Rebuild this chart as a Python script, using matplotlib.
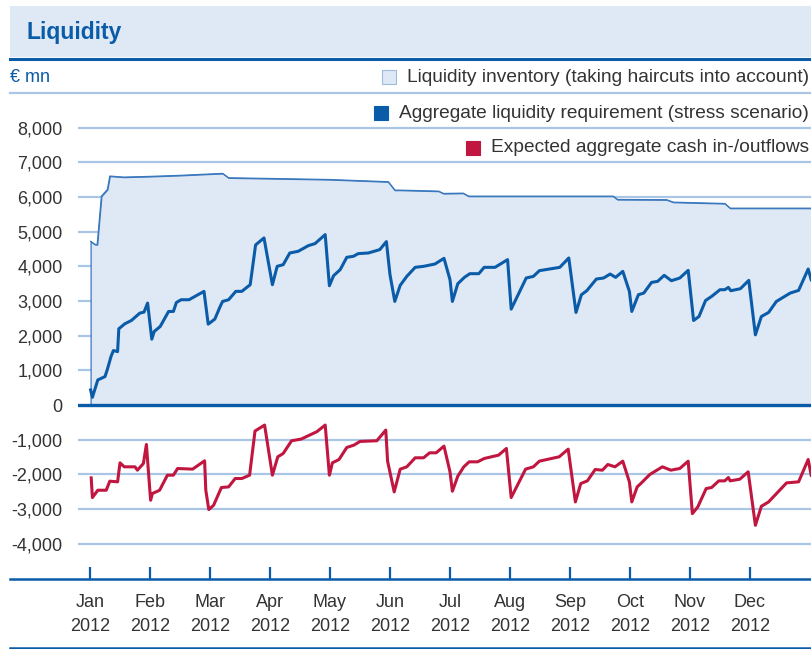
import numpy as np
import matplotlib.pyplot as plt
from matplotlib.lines import Line2D
from matplotlib.patches import Rectangle

plt.rcParams['font.family'] = ['Liberation Sans', 'DejaVu Sans']

#%% data (x in months from 1 Jan 2012)
months = ["Jan", "Feb", "Mar", "Apr", "May", "Jun", "Jul", "Aug", "Sep", "Oct", "Nov", "Dec"]
yticks = [-4000, -3000, -2000, -1000, 0, 1000, 2000, 3000, 4000, 5000, 6000, 7000, 8000]

inv_x = [0.01, 0.08, 0.12, 0.19, 0.29, 0.33, 0.56, 1.0, 1.5, 2.0, 2.21, 2.31, 3.0, 4.0,
         4.97, 5.08, 5.17, 5.81, 5.89, 6.22, 6.31, 8.72, 8.79, 9.61, 9.72, 10.58, 10.67, 12.02]
inv_y = [4720, 4630, 4624, 6020, 6214, 6600, 6570, 6590, 6620, 6660, 6676, 6550, 6530, 6500,
         6436, 6194, 6194, 6165, 6098, 6107, 6020, 6020, 5925, 5918, 5847, 5809, 5674, 5674]

req_x = [0.01, 0.04, 0.13, 0.19, 0.25, 0.29, 0.35, 0.39, 0.46, 0.48, 0.58, 0.69, 0.83, 0.9,
         0.96, 1.03, 1.07, 1.17, 1.31, 1.39, 1.44, 1.52, 1.65, 1.9, 1.97, 2.08, 2.17, 2.21,
         2.31, 2.43, 2.53, 2.67, 2.76, 2.9, 3.04, 3.12, 3.22, 3.33, 3.47, 3.64, 3.75, 3.92,
         3.99, 4.06, 4.17, 4.28, 4.39, 4.47, 4.64, 4.83, 4.94, 5.0, 5.08, 5.17, 5.28, 5.42,
         5.56, 5.75, 5.9, 6.0, 6.04, 6.13, 6.24, 6.33, 6.48, 6.57, 6.75, 6.96, 7.02, 7.27,
         7.39, 7.49, 7.83, 7.98, 8.1, 8.19, 8.28, 8.44, 8.56, 8.67, 8.76, 8.88, 8.99, 9.03,
         9.14, 9.23, 9.36, 9.46, 9.57, 9.69, 9.83, 9.97, 10.06, 10.15, 10.26, 10.36, 10.5,
         10.58, 10.64, 10.68, 10.84, 10.98, 11.09, 11.19, 11.31, 11.44, 11.67, 11.81, 11.97, 12.02]
req_y = [434, 222, 723, 771, 819, 1031, 1397, 1570, 1540, 2197, 2341, 2437, 2649, 2678,
         2938, 1898, 2119, 2264, 2697, 2697, 2957, 3035, 3035, 3276, 2332, 2476, 2842, 2986,
         3035, 3276, 3276, 3468, 4615, 4817, 3468, 3998, 4046, 4383, 4431, 4595, 4653, 4913,
         3439, 3728, 3902, 4258, 4287, 4364, 4383, 4480, 4711, 3757, 2986, 3450, 3709, 3969,
         3998, 4065, 4229, 3613, 2986, 3497, 3680, 3786, 3786, 3969, 3969, 4191, 2765, 3661,
         3709, 3873, 3969, 4239, 2668, 3179, 3295, 3632, 3661, 3776, 3680, 3853, 3276, 2697,
         3179, 3227, 3535, 3564, 3738, 3584, 3661, 3882, 2437, 2552, 3014, 3130, 3324,
         3324, 3391, 3295, 3353, 3593, 2023, 2552, 2668, 2986, 3227, 3304, 3920, 3613]

cash_x = [0.02, 0.04, 0.13, 0.27, 0.33, 0.46, 0.5, 0.57, 0.75, 0.79, 0.89, 0.94, 1.01, 1.04,
          1.16, 1.29, 1.39, 1.46, 1.71, 1.91, 1.93, 1.98, 2.06, 2.19, 2.31, 2.42, 2.53, 2.66,
          2.75, 2.91, 3.04, 3.13, 3.22, 3.36, 3.52, 3.78, 3.92, 3.99, 4.04, 4.15, 4.28, 4.4,
          4.5, 4.78, 4.93, 4.96, 5.07, 5.17, 5.28, 5.42, 5.56, 5.66, 5.77, 5.9, 6.0, 6.04,
          6.13, 6.23, 6.32, 6.46, 6.57, 6.81, 6.94, 7.02, 7.26, 7.39, 7.49, 7.82, 7.97, 8.09,
          8.18, 8.29, 8.42, 8.54, 8.63, 8.75, 8.88, 8.99, 9.03, 9.12, 9.18, 9.33, 9.54, 9.68,
          9.83, 9.97, 10.04, 10.13, 10.27, 10.36, 10.48, 10.58, 10.64, 10.67, 10.83, 10.97,
          11.09, 11.19, 11.31, 11.61, 11.81, 11.97, 12.02]
cash_y = [-2101, -2668, -2457, -2457, -2196, -2215, -1667, -1782, -1782, -1879, -1686, -1137,
          -2746, -2552, -2457, -2023, -2023, -1830, -1849, -1609, -2457, -3015, -2890, -2379,
          -2360, -2119, -2119, -2023, -751, -578, -2023, -1493, -1397, -1031, -982, -770, -578,
          -2023, -1667, -1571, -1224, -1156, -1050, -1031, -723, -1619, -2505, -1850, -1782,
          -1522, -1522, -1378, -1378, -1185, -1926, -2485, -2052, -1782, -1638, -1638, -1542,
          -1445, -1253, -2668, -1849, -1782, -1619, -1493, -1272, -2794, -2264, -2187, -1859,
          -1879, -1715, -1782, -1619, -2215, -2794, -2360, -2264, -2004, -1782, -1879, -1830,
          -1619, -3131, -2938, -2408, -2379, -2187, -2187, -2091, -2187, -2139, -1926, -3468,
          -2919, -2794, -2245, -2215, -1571, -2023]

#%% colours
dark = "#0b5ca8"
grid_c = "#a9c6e4"
fill_c = "#dfe8f5"
red = "#c0163f"
txt = "#333333"

W, H = 811, 649
fig = plt.figure(figsize=(W / 100, H / 100), dpi=100)

def fx(x):
    return x / W

def fy(y):
    return 1 - y / H

# header band
fig.patches.append(Rectangle((fx(10), fy(57)), fx(801), 51 / H, transform=fig.transFigure,
                             facecolor=fill_c, edgecolor='none'))
fig.lines.append(Line2D([fx(10), 1], [fy(58.5), fy(58.5)], transform=fig.transFigure, color=dark, lw=2.2))
fig.text(fx(26), fy(32), "Liquidity", color=dark, fontsize=16.5, fontweight='bold', va='center')
fig.text(fx(10), fy(78), "€ mn", color=dark, fontsize=13, va='center')
fig.lines.append(Line2D([fx(10), 1], [fy(93), fy(93)], transform=fig.transFigure, color=grid_c, lw=1.6))

ax = fig.add_axes([fx(78), fy(579), fx(733), (579 - 93) / H])
ax.set_xlim(-0.2, 12.017)
ax.set_ylim(-5016, 8995)

for v in yticks:
    if v != 0:
        ax.axhline(v, color=grid_c, lw=1.6, zorder=1)

ax.fill_between(inv_x, 0, inv_y, facecolor=fill_c, edgecolor="#3a78bd", lw=0.9, zorder=2)
ax.plot(inv_x, inv_y, color="#3a78bd", lw=0.9, zorder=3)
ax.axhline(0, color=dark, lw=2.4, zorder=4)
ax.plot(req_x, req_y, color=dark, lw=2.2, zorder=5)
ax.plot(cash_x, cash_y, color=red, lw=2.2, zorder=5)

for s in ax.spines.values():
    s.set_visible(False)
ax.set_yticks(yticks)
ax.set_yticklabels([f"{v:,}" for v in yticks])
ax.tick_params(axis='y', length=0, pad=11, labelsize=13, labelcolor=txt)
ax.set_xticks(range(12))
ax.set_xticklabels([m + "\n2012" for m in months], linespacing=1.5)
ax.tick_params(axis='x', direction='in', length=8.5, width=1.6, color=dark,
               pad=11, labelsize=13, labelcolor=txt)

fig.lines.append(Line2D([fx(10), 1], [fy(579), fy(579)], transform=fig.transFigure, color=dark, lw=1.8))
fig.lines.append(Line2D([fx(10), 1], [fy(647.5), fy(647.5)], transform=fig.transFigure, color=dark, lw=1.8))

# legend entries
legend = [("Liquidity inventory (taking haircuts into account)", fill_c, "#9bbbe0", 77),
          ("Aggregate liquidity requirement (stress scenario)", dark, dark, 113),
          ("Expected aggregate cash in-/outflows", red, red, 148)]
for label, fc, ec, yy in legend:
    t = fig.text(fx(809), fy(yy), label, color=txt, fontsize=13.8, ha='right', va='center')
    fig.canvas.draw()
    bb = t.get_window_extent()
    x0 = bb.x0 - 25
    fig.patches.append(Rectangle((fx(x0), fy(yy + 7)), 14 / W, 14 / H, transform=fig.transFigure,
                                 facecolor=fc, edgecolor=ec, lw=0.8))

fig.savefig("out.png", dpi=100)
